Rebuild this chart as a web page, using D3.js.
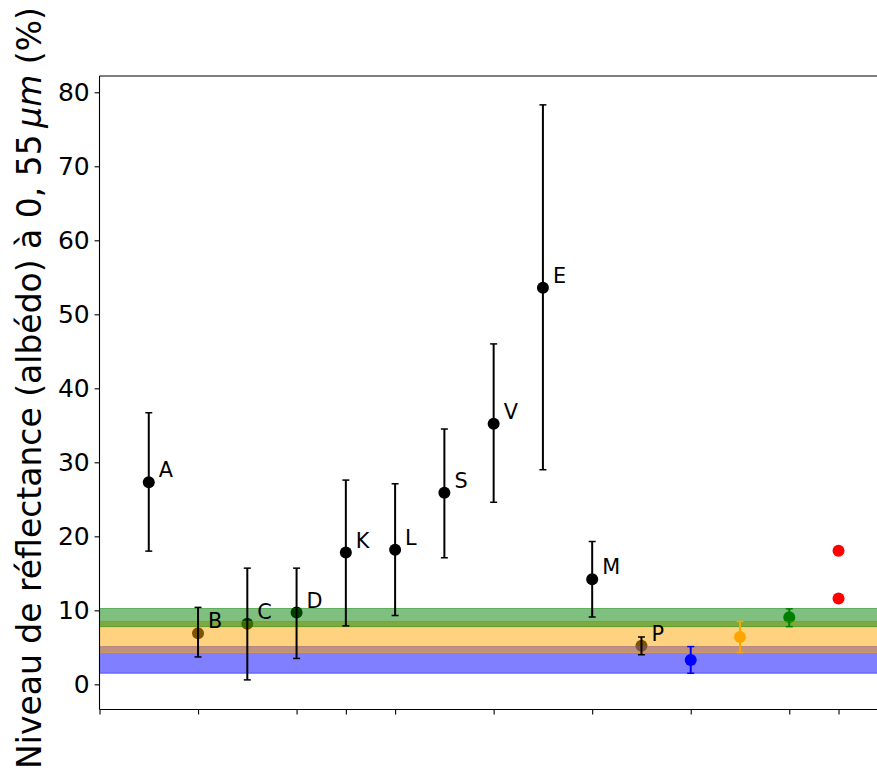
<!DOCTYPE html>
<html>
<head>
<meta charset="utf-8">
<script src="https://cdn.jsdelivr.net/npm/d3@7"></script>
<style>
  html, body { margin: 0; padding: 0; background: #fff; }
  svg { display: block; font-family: "DejaVu Sans", sans-serif; }
</style>
</head>
<body>
<svg id="chart" width="877" height="774"></svg>
<script>
// ---- data ----
const letters   = ["A", "B", "C", "D", "K", "L", "S", "V", "E", "M", "P"];
const letterX   = [1, 2, 3, 4, 5, 6, 7, 8, 9, 10, 11];
const letterVal = [27.3, 6.9, 8.2, 9.7, 17.8, 18.2, 25.9, 35.2, 53.6, 14.2, 5.2];
const letterLow = [18.0, 3.7, 0.6, 3.5, 7.9, 9.3, 17.1, 24.6, 29.0, 9.1, 4.0];
const letterHigh= [36.7, 10.4, 15.7, 15.7, 27.6, 27.1, 34.5, 46.0, 78.3, 19.3, 6.4];

const colorNames = ["blue", "orange", "green"];
const colorX     = [12, 13, 14];
const colorVal   = [3.3, 6.4, 9.05];
const colorLow   = [1.5, 4.3, 7.8];
const colorHigh  = [5.1, 8.5, 10.2];

const bandLow  = [1.5, 4.3, 7.8];
const bandHigh = [5.1, 8.5, 10.25];

const redX   = [15, 15];
const redVal = [18.05, 11.6];

const xTicks = [0, 2, 4, 5, 6, 8, 10, 12, 14, 15];
const yTicks = [0, 10, 20, 30, 40, 50, 60, 70, 80];

// ---- layout ----
const mLeft = 99.5, mTop = 76, mBottom = 709.5, mRight = 887.8;
const svg = d3.select("#chart");
const x = d3.scaleLinear().domain([0, 16]).range([mLeft, mRight]);
const y = d3.scaleLinear().domain([-3.4, 82.2]).range([mBottom, mTop]);

const g = svg.append("g");

const pts = letters.map((l, i) => ({l, x: letterX[i], v: letterVal[i], lo: letterLow[i], hi: letterHigh[i]}));
const cpts = colorNames.map((c, i) => ({c, x: colorX[i], v: colorVal[i], lo: colorLow[i], hi: colorHigh[i]}));

// markers
g.selectAll("circle.pt").data(pts).enter().append("circle")
  .attr("cx", d => x(d.x)).attr("cy", d => y(d.v)).attr("r", 6).attr("fill", "#000");
g.selectAll("circle.cpt").data(cpts).enter().append("circle")
  .attr("cx", d => x(d.x)).attr("cy", d => y(d.v)).attr("r", 6).attr("fill", d => d.c);

// bands
g.selectAll("rect.band").data(colorNames).enter().append("rect")
  .attr("x", x(0)).attr("width", x(16) - x(0))
  .attr("y", (c, i) => y(bandHigh[i]))
  .attr("height", (c, i) => y(bandLow[i]) - y(bandHigh[i]))
  .attr("fill", c => c).attr("fill-opacity", 0.5)
  .attr("stroke", c => c).attr("stroke-opacity", 0.5).attr("stroke-width", 1);

// error bars
function errBars(data, colorFn) {
  const eg = g.append("g");
  data.forEach(d => {
    const col = colorFn(d);
    eg.append("line").attr("x1", x(d.x)).attr("x2", x(d.x))
      .attr("y1", y(d.lo)).attr("y2", y(d.hi)).attr("stroke", col).attr("stroke-width", 2);
    [d.lo, d.hi].forEach(v => {
      eg.append("line").attr("x1", x(d.x) - 3.5).attr("x2", x(d.x) + 3.5)
        .attr("y1", y(v)).attr("y2", y(v)).attr("stroke", col).attr("stroke-width", 1.5);
    });
  });
}
errBars(pts, d => "#000");
errBars(cpts, d => d.c);

// red points
g.selectAll("circle.red").data(redVal).enter().append("circle")
  .attr("cx", (v, i) => x(redX[i])).attr("cy", v => y(v)).attr("r", 6).attr("fill", "red");

// letter labels
g.selectAll("text.lbl").data(pts).enter().append("text")
  .attr("x", d => x(d.x) + 10).attr("y", d => y(d.v) - 5)
  .attr("font-size", 20.8).attr("fill", "#000").text(d => d.l);

// axes
const yAxis = d3.axisLeft(y).tickValues(yTicks).tickSize(4.9).tickPadding(4.9);
const ya = svg.append("g").attr("transform", `translate(${mLeft},0)`).call(yAxis);
ya.select(".domain").remove();
ya.selectAll("text").attr("font-size", 25).attr("font-family", "DejaVu Sans").attr("fill", "#000");
ya.selectAll("line").attr("stroke", "#000").attr("stroke-width", 1.1);

const xAxis = d3.axisBottom(x).tickValues(xTicks).tickSize(4.9).tickFormat("");
const xa = svg.append("g").attr("transform", `translate(0,${mBottom})`).call(xAxis);
xa.select(".domain").remove();
xa.selectAll("line").attr("stroke", "#000").attr("stroke-width", 1.1);

// spines
const spines = [[mLeft, mTop, mLeft, mBottom], [mLeft, mBottom, mRight, mBottom], [mLeft, mTop, mRight, mTop], [mRight, mTop, mRight, mBottom]];
svg.selectAll("line.spine").data(spines).enter().append("line")
  .attr("x1", d => d[0]).attr("y1", d => d[1]).attr("x2", d => d[2]).attr("y2", d => d[3])
  .attr("stroke", "#000").attr("stroke-width", 1.1);

// y label
let fs = 32;
const yl = svg.append("text")
  .attr("transform", "translate(41,388) rotate(-90)")
  .attr("text-anchor", "middle").attr("font-size", fs).attr("fill", "#000");
yl.append("tspan").text("Niveau de réflectance (albédo) à 0, 55\u2009");
yl.append("tspan").attr("font-style", "italic").text("μm");
yl.append("tspan").text(" (%)");
const len = yl.node().getComputedTextLength();
if (len > 0) yl.attr("font-size", fs * 762 / len);
</script>
</body>
</html>
